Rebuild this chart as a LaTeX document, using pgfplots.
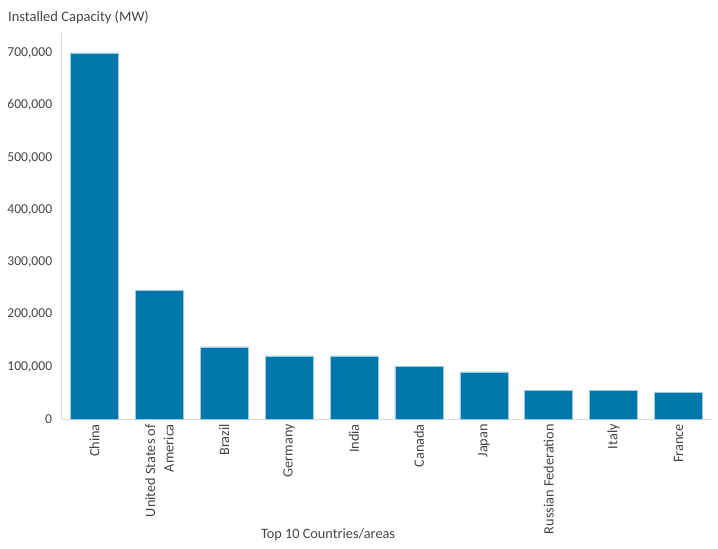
\documentclass[border=0pt]{standalone}
\usepackage{pgfplots}
\pgfplotsset{compat=1.18}
\usepackage{fontspec}
\setmainfont{Carlito}
\definecolor{barblue}{HTML}{0077AA}
\definecolor{baredge}{HTML}{9CCBE3}
\definecolor{txt}{HTML}{454545}
\definecolor{axgrey}{HTML}{D9D9D9}
\begin{document}
\fontsize{14}{16}\selectfont
\begin{tikzpicture}
\begin{axis}[
  at={(0,0)}, anchor=south west,
  scale only axis, width=649pt, height=386pt,
  xmin=-0.5, xmax=9.5, ymin=0, ymax=738000,
  axis x line*=bottom, axis y line*=left,
  axis line style={axgrey, line width=1pt},
  major tick length=0pt,
  xtick=data,
  xticklabels={China,{United States of\\America},Brazil,Germany,India,Canada,Japan,Russian Federation,Italy,France},
  xticklabel style={rotate=90, anchor=east, align=right, text=txt, font=\fontsize{14.3}{18.5}\selectfont, inner sep=0pt, xshift=-5pt},
  ytick={0,100000,...,700000},
  scaled y ticks=false,
  y tick label style={/pgf/number format/fixed, /pgf/number format/1000 sep={,}, /pgf/number format/assume math mode=true},
  yticklabel style={text=txt, font=\fontsize{13.6}{15}\selectfont, xshift=-5pt},
  xlabel={Top 10 Countries/areas},
  xlabel style={at={(axis description cs:0.41,-0.3)}, anchor=center, text=txt, font=\fontsize{14.3}{16}\selectfont},
  clip=false,
]
\addplot[ybar, bar width=48pt, fill=barblue, draw=baredge, line width=0.6pt] coordinates {
  (0,700000) (1,246600) (2,137700) (3,120500) (4,120500)
  (5,101300) (6,89900) (7,55400) (8,55400) (9,51600)
};
\end{axis}
\node[anchor=west, text=txt, inner sep=0pt, font=\fontsize{14.5}{16}\selectfont] at (-54pt,402pt) {Installed Capacity (MW)};
\useasboundingbox (-62pt,-130pt) rectangle (656pt,419pt);
\end{tikzpicture}
\end{document}
